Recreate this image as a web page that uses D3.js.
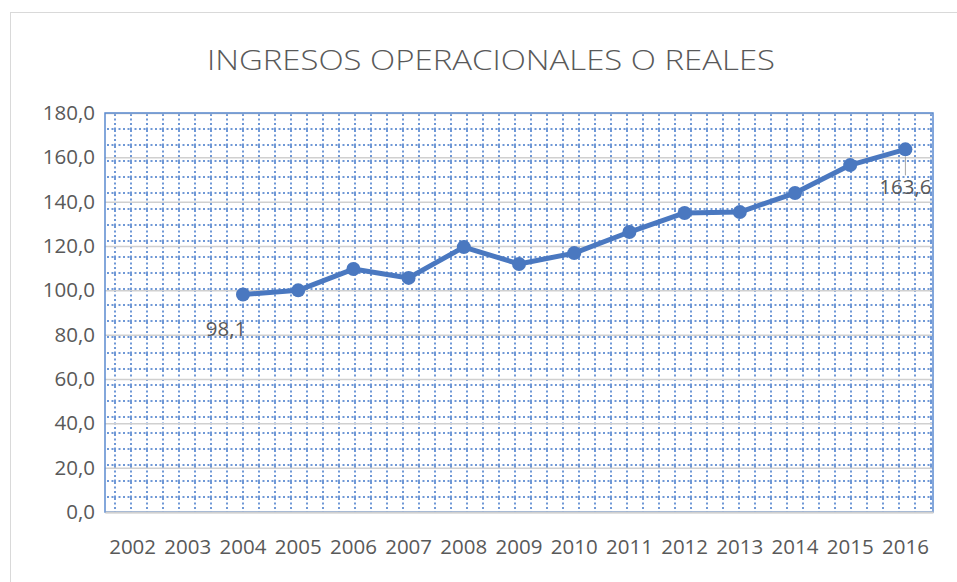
<!DOCTYPE html>
<html>
<head>
<meta charset="utf-8">
<script src="https://cdn.jsdelivr.net/npm/d3@7"></script>
<style>
  body { margin: 0; background: #fff; }
  text { font-family: "Open Sans", "Noto Sans", sans-serif; fill: #595959; }
</style>
</head>
<body>
<script>
// data
let years = ["2002","2003","2004","2005","2006","2007","2008","2009","2010","2011","2012","2013","2014","2015","2016"];
let values = [null, null, 98.1, 100.0, 109.6, 105.6, 119.5, 111.9, 116.8, 126.3, 134.9, 135.3, 143.9, 156.5, 163.6];
let yTicks = [0, 20, 40, 60, 80, 100, 120, 140, 160, 180];
let labelled = ["2004", "2016"];

let W = 957, H = 582;
let margin = {top: 113, right: 24, bottom: 70, left: 105},
    width = W - margin.left - margin.right,
    height = H - margin.top - margin.bottom;

let svg = d3.select("body").append("svg")
    .attr("width", W)
    .attr("height", H);

// chart frame
svg.append("rect")
    .attr("x", 10.5).attr("y", 12.5)
    .attr("width", W).attr("height", H)
    .attr("fill", "none")
    .attr("stroke", "#d9d9d9");

svg.append("text")
    .attr("x", 491).attr("y", 70)
    .attr("text-anchor", "middle")
    .attr("font-size", 28)
    .attr("font-weight", 300)
    .attr("textLength", 568)
    .attr("lengthAdjust", "spacingAndGlyphs")
    .text("INGRESOS OPERACIONALES O REALES");

// dotted grid pattern of the plot area
let pat = svg.append("defs").append("pattern")
    .attr("id", "dots")
    .attr("patternUnits", "userSpaceOnUse")
    .attr("x", margin.left).attr("y", margin.top)
    .attr("width", 16).attr("height", 16);
pat.append("path")
    .attr("d", "M0,15H16M1,0V16")
    .attr("stroke", "#6f98d6")
    .attr("stroke-width", 2)
    .attr("stroke-dasharray", "2,2.5")
    .attr("fill", "none");

let x = d3.scaleBand()
    .domain(years)
    .range([0, width]);
let y = d3.scaleLinear()
    .domain([0, 180])
    .range([height, 0]);

let g = svg.append("g")
    .attr("transform", "translate(" + margin.left + "," + margin.top + ")");

g.append("rect")
    .attr("width", width).attr("height", height)
    .attr("fill", "url(#dots)");

// major gridlines
g.append("g")
    .call(d3.axisLeft(y).tickValues(yTicks).tickSize(-width).tickFormat(""))
    .call(a => a.select(".domain").remove())
    .selectAll("line")
    .attr("stroke", "#d0d0d0")
    .attr("stroke-width", 1.5);

// plot border
g.append("rect")
    .attr("width", width).attr("height", height)
    .attr("fill", "none")
    .attr("stroke", "#5b8ad0")
    .attr("stroke-width", 1.5);

// x axis
let xAxis = g.append("g")
    .attr("transform", "translate(0," + height + ")")
    .call(d3.axisBottom(x).tickSize(0).tickPadding(27));
xAxis.select(".domain").attr("stroke", "#d0d0d0").attr("stroke-width", 2);
xAxis.selectAll("text").attr("font-size", 20.5).attr("fill", "#595959");

// y axis labels
let yAxis = g.append("g")
    .call(d3.axisLeft(y).tickValues(yTicks).tickSize(0).tickPadding(10)
        .tickFormat(d => d3.format(".1f")(d).replace(".", ",")));
yAxis.select(".domain").remove();
yAxis.selectAll("text").attr("font-size", 20.5).attr("fill", "#595959");

let pts = years.map((yr, i) => ({year: yr, value: values[i]})).filter(d => d.value != null);
let cx = d => x(d.year) + x.bandwidth() / 2;

g.append("path")
    .datum(pts)
    .attr("fill", "none")
    .attr("stroke", "#4a78c0")
    .attr("stroke-width", 5)
    .attr("stroke-linejoin", "round")
    .attr("d", d3.line().x(cx).y(d => y(d.value)));

g.selectAll(".dot")
    .data(pts)
    .enter().append("circle")
    .attr("class", "dot")
    .attr("cx", cx)
    .attr("cy", d => y(d.value))
    .attr("r", 7)
    .attr("fill", "#4a78c0");

// data labels
let lab = pts.filter(d => labelled.includes(d.year));
g.selectAll(".leader")
    .data(lab.filter(d => d.year == "2016"))
    .enter().append("line")
    .attr("x1", cx).attr("x2", cx)
    .attr("y1", d => y(d.value) + 7)
    .attr("y2", d => y(d.value) + 26)
    .attr("stroke", "#a6a6a6");
g.selectAll(".lbl")
    .data(lab)
    .enter().append("text")
    .attr("x", d => d.year == "2016" ? cx(d) : cx(d) - 17)
    .attr("y", d => d.year == "2016" ? y(d.value) + 45 : y(d.value) + 41)
    .attr("text-anchor", "middle")
    .attr("font-size", 20.5)
    .text(d => d3.format(".1f")(d.value).replace(".", ","));
</script>
</body>
</html>
